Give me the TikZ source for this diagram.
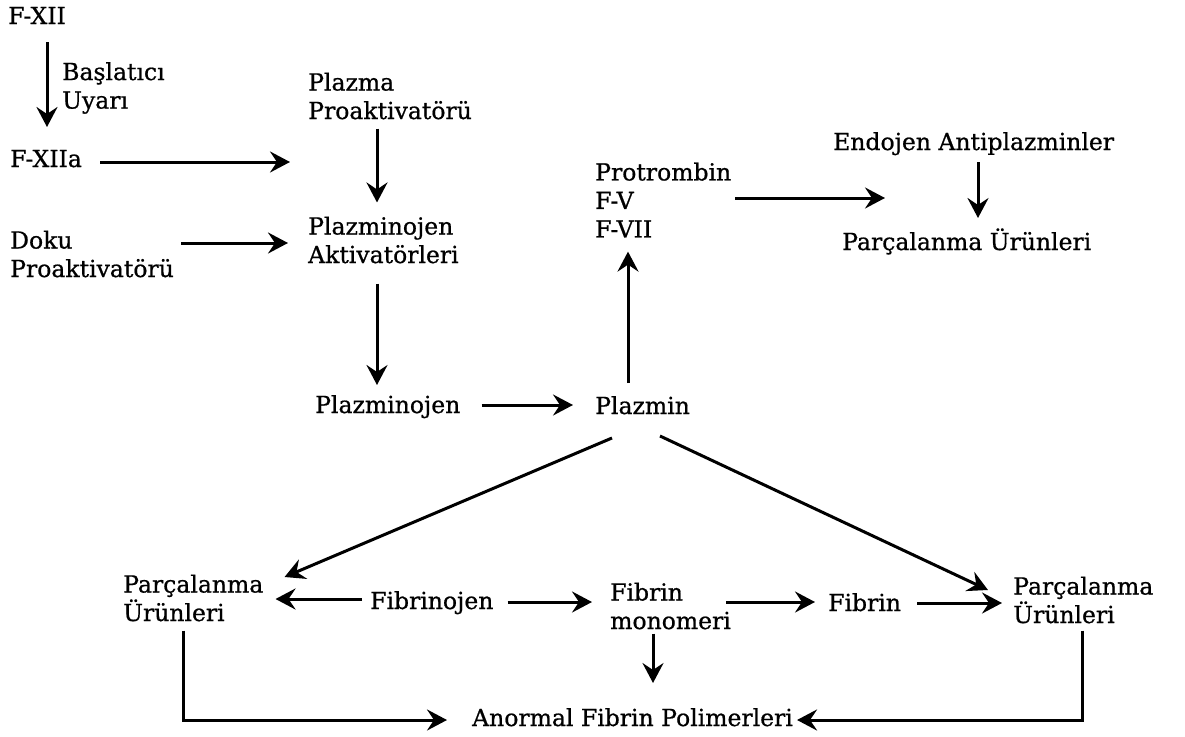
\documentclass[tikz,border=0pt]{standalone}
\usepackage{fontspec}
\setmainfont{DejaVu Serif}[FakeBold=0.7]
\usepackage{tikz}
\usetikzlibrary{arrows.meta,positioning,calc}

\begin{document}
\begin{tikzpicture}[
    x=1pt, y=-1pt,
    every node/.style={inner sep=0pt, font=\fontsize{23.5}{28.5}\selectfont},
    lbl/.style={anchor=base west},
    blk/.style={anchor=west, align=left},
    arr/.style={-{Stealth[length=20pt,width=21pt,inset=7pt]}, line width=3pt}
]
\useasboundingbox (0,0) rectangle (1185,736);

% Upper left: activation
\node[lbl] (fxii) at (8,24) {F-XII};
\node[blk] (baslat) at (62,88) {Başlatıcı\\Uyarı};
\node[lbl] (fxiia) at (10,167) {F-XIIa};
\node[blk] (plazmaPro) at (308,96) {Plazma\\Proaktivatörü};
\node[blk] (plazAkt) at (308,240) {Plazminojen\\Aktivatörleri};
\node[blk] (doku) at (10,254) {Doku\\Proaktivatörü};
\coordinate (aktIn) at (290,162);

% Middle
\node[lbl] (plazminojen) at (315,413) {Plazminojen};
\node[lbl] (plazmin) at (595,414) {Plazmin};
\node[blk] (protrombin) at (595,200) {Protrombin\\F-V\\F-VII};

% Upper right
\node[lbl] (endojen) at (833,150) {Endojen Antiplazminler};
\node[lbl] (parcUst) at (842,250) {Parçalanma Ürünleri};
\coordinate (antiIn) at (885,198);

% Lower row
\node[blk] (parcSol) at (123,598) {Parçalanma\\Ürünleri};
\node[lbl] (fibrinojen) at (370,609) {Fibrinojen};
\node[blk] (monomer) at (610,606) {Fibrin\\monomeri};
\node[lbl] (fibrin) at (828,611) {Fibrin};
\node[blk] (parcSag) at (1013,600) {Parçalanma\\Ürünleri};
\node[lbl] (anormal) at (472,726) {Anormal Fibrin Polimerleri};

% Arrows, top part
\draw[arr] ([xshift=39pt,yshift=-18pt]fxii.base west) -- ([xshift=37pt,yshift=40pt]fxiia.base west);
\draw[arr] ([xshift=18pt,yshift=5pt]fxiia.base east) -- (aktIn);
\draw[arr] ([xshift=69pt,yshift=-9pt]plazmaPro.south west) -- ([xshift=69pt,yshift=14pt]plazAkt.north west);
\draw[arr] ([xshift=7pt,yshift=11pt]doku.east) -- ([xshift=-20pt,yshift=-3pt]plazAkt.west);
\draw[arr] ([xshift=69pt,yshift=-20pt]plazAkt.south west) -- ([xshift=62pt,yshift=28pt]plazminojen.base west);
\draw[arr] ([xshift=21pt,yshift=8pt]plazminojen.base east) -- ([xshift=-22pt,yshift=9pt]plazmin.base west);
\draw[arr] ([xshift=33pt,yshift=31pt]plazmin.base west) -- ([xshift=33pt,yshift=-14pt]protrombin.south west);
\draw[arr] ([xshift=4pt,yshift=2pt]protrombin.east) -- (antiIn);
\draw[arr] ([xshift=145pt,yshift=-12pt]endojen.base west) -- ([xshift=136pt,yshift=32pt]parcUst.base west);

% Arrows, lower part
\draw[arr] ([xshift=17pt,yshift=-24pt]plazmin.base west) -- ([xshift=21pt,yshift=21pt]parcSol.east);
\draw[arr] ([xshift=65pt,yshift=-22pt]plazmin.base west) -- ([xshift=-25pt,yshift=10pt]parcSag.west);
\draw[arr] ([xshift=-8pt,yshift=10pt]fibrinojen.base west) -- ([xshift=12pt,yshift=-1pt]parcSol.east);
\draw[arr] ([xshift=14pt,yshift=7pt]fibrinojen.base east) -- ([xshift=-18pt,yshift=4pt]monomer.west);
\draw[arr] ([xshift=-5pt,yshift=4pt]monomer.east) -- ([xshift=-13pt,yshift=9pt]fibrin.base west);
\draw[arr] ([xshift=16pt,yshift=8pt]fibrin.base east) -- ([xshift=-11pt,yshift=-3pt]parcSag.west);
\draw[arr] ([xshift=43pt,yshift=-4pt]monomer.south west) -- ([xshift=181pt,yshift=43pt]anormal.base west);
\draw[arr] ([xshift=60pt,yshift=-9pt]parcSol.south west) |- ([xshift=-25pt,yshift=6pt]anormal.base west);
\draw[arr] ([xshift=69pt,yshift=-7pt]parcSag.south west) |- ([xshift=4pt,yshift=6pt]anormal.base east);

\end{tikzpicture}
\end{document}
